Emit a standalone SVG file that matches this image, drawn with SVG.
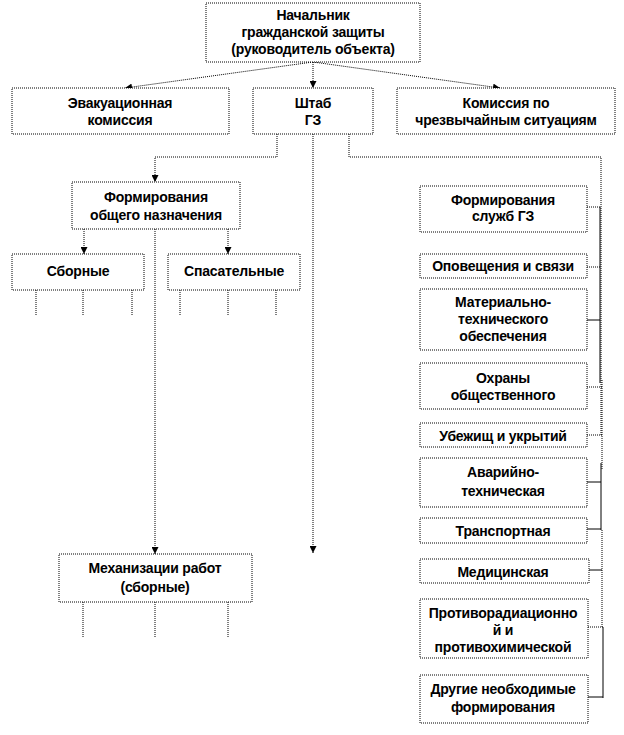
<svg xmlns="http://www.w3.org/2000/svg" width="624" height="735" viewBox="0 0 624 735">
<defs>
<style>
.box{fill:#fff;stroke:#000;stroke-width:1;stroke-dasharray:1 1}
.t{font-family:"Liberation Sans",Arial,sans-serif;font-weight:bold;font-size:14px;text-anchor:middle;fill:#000;letter-spacing:-0.2px}
.c{fill:none;stroke:#000;stroke-width:1;stroke-dasharray:1 1}
.s{fill:none;stroke:#000;stroke-width:1}
</style>
<marker id="ar" viewBox="0 0 8 8" refX="8" refY="4" markerWidth="7" markerHeight="7" orient="auto" markerUnits="userSpaceOnUse">
<path d="M0,0 L8,4 L0,8 Z" fill="#000"/>
</marker>
</defs>
<rect width="624" height="735" fill="#fff"/>
<g id="connectors">
<line class="c" x1="313" y1="62" x2="125" y2="88" marker-end="url(#ar)"/>
<line class="c" x1="313" y1="62" x2="313" y2="88" marker-end="url(#ar)"/>
<line class="c" x1="313" y1="62" x2="500" y2="88" marker-end="url(#ar)"/>
<polyline class="c" points="277,134 277,157 155,157 155,182" marker-end="url(#ar)"/>
<line class="c" x1="313" y1="134" x2="313" y2="553" marker-end="url(#ar)"/>
<polyline class="c" points="349,134 349,157 601,157 601,435"/>
<line class="s" x1="600" y1="207" x2="600" y2="383"/>
<line class="s" x1="601" y1="463" x2="601" y2="530"/>
<line class="c" x1="602" y1="380" x2="602" y2="470"/>
<line class="c" x1="602" y1="530" x2="602" y2="627"/>
<line class="s" x1="603" y1="627" x2="603" y2="698"/>
<line class="c" x1="587" y1="207" x2="600" y2="207"/>
<line class="c" x1="587" y1="267" x2="600" y2="267"/>
<line class="s" x1="587" y1="320" x2="600" y2="320"/>
<line class="c" x1="587" y1="387" x2="602" y2="387"/>
<line class="c" x1="587" y1="435" x2="602" y2="435"/>
<line class="s" x1="587" y1="482" x2="601" y2="482"/>
<line class="s" x1="587" y1="529" x2="601" y2="529"/>
<line class="s" x1="589" y1="570" x2="602" y2="570"/>
<line class="c" x1="588" y1="627" x2="603" y2="627"/>
<line class="s" x1="588" y1="697" x2="603" y2="697"/>
<line class="c" x1="84" y1="229" x2="84" y2="254" marker-end="url(#ar)"/>
<line class="c" x1="228" y1="229" x2="228" y2="254" marker-end="url(#ar)"/>
<line class="c" x1="155" y1="229" x2="155" y2="554" marker-end="url(#ar)"/>
<line class="c" x1="36" y1="290" x2="36" y2="315"/>
<line class="c" x1="83" y1="290" x2="83" y2="315"/>
<line class="c" x1="132" y1="290" x2="132" y2="315"/>
<line class="c" x1="180" y1="290" x2="180" y2="315"/>
<line class="c" x1="228" y1="290" x2="228" y2="315"/>
<line class="c" x1="276" y1="290" x2="276" y2="315"/>
<line class="c" x1="83" y1="602" x2="83" y2="638"/>
<line class="c" x1="155" y1="602" x2="155" y2="638"/>
<line class="c" x1="228" y1="602" x2="228" y2="638"/>
</g>
<g id="chief"><rect class="box" x="206" y="3" width="214" height="59"/>
<text class="t" x="313" y="20">Начальник</text><text class="t" x="313" y="37">гражданской защиты</text><text class="t" x="313" y="54">(руководитель объекта)</text></g>
<g id="evac"><rect class="box" x="12" y="88" width="217" height="46"/>
<text class="t" x="120" y="108">Эвакуационная</text><text class="t" x="120" y="125">комиссия</text></g>
<g id="shtab"><rect class="box" x="253" y="88" width="120" height="46"/>
<text class="t" x="313" y="108">Штаб</text><text class="t" x="313" y="125">ГЗ</text></g>
<g id="kchs"><rect class="box" x="397" y="88" width="218" height="46"/>
<text class="t" x="506" y="108">Комиссия по</text><text class="t" x="506" y="125">чрезвычайным ситуациям</text></g>
<g id="general"><rect class="box" x="72" y="182" width="168" height="47"/>
<text class="t" x="156" y="202">Формирования</text><text class="t" x="156" y="220">общего назначения</text></g>
<g id="sbornye"><rect class="box" x="12" y="254" width="132" height="36"/>
<text class="t" x="78" y="276">Сборные</text></g>
<g id="spas"><rect class="box" x="168" y="254" width="132" height="36"/>
<text class="t" x="234" y="276">Спасательные</text></g>
<g id="mech"><rect class="box" x="59" y="554" width="193" height="48"/>
<text class="t" x="155" y="573">Механизации работ</text><text class="t" x="155" y="592">(сборные)</text></g>
<g id="services"><rect class="box" x="420" y="186" width="167" height="46"/>
<text class="t" x="503" y="205">Формирования</text><text class="t" x="503" y="221">служб ГЗ</text></g>
<g id="svyaz"><rect class="box" x="420" y="254" width="167" height="24"/>
<text class="t" x="503" y="271">Оповещения и связи</text></g>
<g id="mto"><rect class="box" x="420" y="289" width="167" height="61"/>
<text class="t" x="503" y="307">Материально-</text><text class="t" x="503" y="324">технического</text><text class="t" x="503" y="341">обеспечения</text></g>
<g id="ohrana"><rect class="box" x="420" y="363" width="167" height="46"/>
<text class="t" x="503" y="383">Охраны</text><text class="t" x="503" y="400">общественного</text></g>
<g id="ubezh"><rect class="box" x="420" y="423" width="167" height="24"/>
<text class="t" x="503" y="441">Убежищ и укрытий</text></g>
<g id="avar"><rect class="box" x="420" y="458" width="167" height="49"/>
<text class="t" x="503" y="477">Аварийно-</text><text class="t" x="503" y="496">техническая</text></g>
<g id="trans"><rect class="box" x="420" y="518" width="167" height="25"/>
<text class="t" x="503" y="536">Транспортная</text></g>
<g id="med"><rect class="box" x="420" y="559" width="169" height="24"/>
<text class="t" x="503" y="577">Медицинская</text></g>
<g id="prhz"><rect class="box" x="420" y="599" width="168" height="59"/>
<text class="t" x="503" y="618">Противорадиационно</text><text class="t" x="503" y="635">й и</text><text class="t" x="503" y="652">противохимической</text></g>
<g id="other"><rect class="box" x="420" y="675" width="168" height="48"/>
<text class="t" x="503" y="694">Другие необходимые</text><text class="t" x="503" y="712">формирования</text></g>
</svg>
